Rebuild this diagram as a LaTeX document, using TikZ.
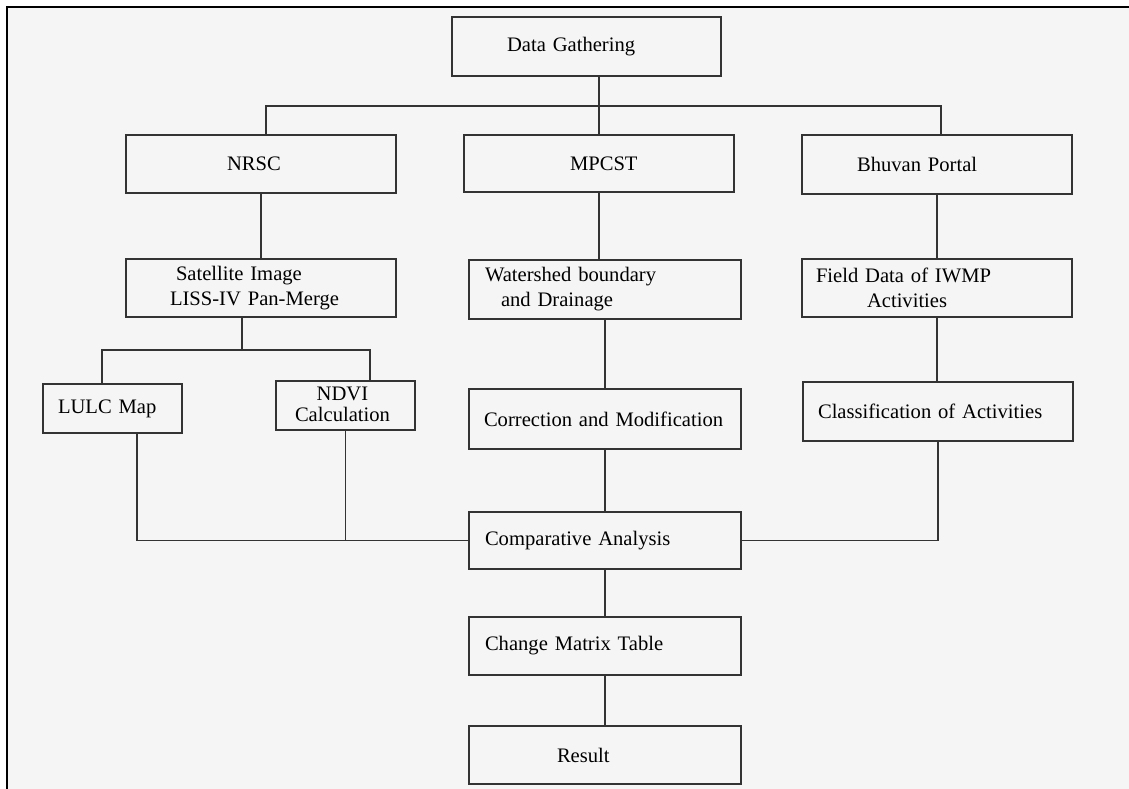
\documentclass[tikz,border=0pt]{standalone}
\usepackage{fontspec}
\setmainfont{Liberation Serif}
\usepackage{tikz}
\usetikzlibrary{calc}
\definecolor{paper}{HTML}{F5F5F5}
\definecolor{ink}{HTML}{333333}

\begin{document}
\begin{tikzpicture}[x=1pt,y=-1pt,
box/.style={draw=ink,line width=1.4pt,align=left,inner xsep=0pt,inner ysep=0pt,
  font=\fontsize{20.6}{25}\selectfont},
wide/.style={box,text width=270pt,minimum height=58pt},
small/.style={box,text width=139pt,minimum height=49pt},
link/.style={draw=ink,line width=1.4pt}]
 \useasboundingbox (0,0) rectangle (1129,789);
 \fill[paper] (7,7) rectangle (1129,789);
 \draw[line width=2pt] (7,789) -- (7,7) -- (1129,7);
 % top row
 \node[wide,text width=269pt,minimum height=59pt] (dg) at (586.5,46.5) {\hspace*{55pt}Data Gathering};
 \node[wide] (nrsc) at (261,164) {\hspace*{101pt}NRSC};
 \node[wide,minimum height=57pt] (mpcst) at (599,163.5) {\hspace*{106pt}MPCST};
 \node[wide,minimum height=59pt] (bhuvan) at (937,164.5) {\hspace*{55pt}Bhuvan Portal};
 % second row
 \node[wide] (sat) at (261,288) {\hspace*{50pt}Satellite Image\\\hspace*{44pt}LISS-IV Pan-Merge};
 \node[wide,text width=272pt,minimum height=59pt] (ws) at (605,289.5) {\hspace*{16pt}Watershed boundary\\\hspace*{32pt}and Drainage};
 \node[wide] (field) at (937,288) {\hspace*{14pt}Field Data of IWMP\\\hspace*{65pt}Activities};
 % third row
 \node[small] (lulc) at (112.5,408.5) {\hspace*{15pt}LULC Map};
 \node[small] (ndvi) at (345.5,405.5) {\hspace*{19pt}\begin{tabular}{@{}c@{}}NDVI\\[-4pt]Calculation\end{tabular}};
 \node[wide,text width=272pt,minimum height=60pt] (cor) at (605,419) {\hspace*{15pt}Correction and Modification};
 \node[wide,minimum height=59pt] (cls) at (938,411.5) {\hspace*{15pt}Classification of Activities};
 % bottom column
 \node[wide,text width=272pt,minimum height=57pt] (ca) at (605,540.5) {\hspace*{16pt}Comparative Analysis};
 \node[wide,text width=272pt] (cmt) at (605,646) {\hspace*{16pt}Change Matrix Table};
 \node[wide,text width=272pt] (res) at (605,755) {\hspace*{88pt}Result};
 % connectors
 \coordinate (busl) at (266,106);
 \coordinate (busr) at (941,106);
 \draw[link] (dg.south -| mpcst.north) -- (mpcst.north);
 \draw[link] (nrsc.north -| busl) -- (busl) -- (busr) -- (bhuvan.north -| busr);
 \foreach \a/\b in {nrsc/sat,ws/cor,cor/ca,ca/cmt,cmt/res,bhuvan/field}
  \draw[link] (\a.south) -- (\b.north);
 \draw[link] (mpcst.south) -- (mpcst.south |- ws.north);
 \draw[link] (field.south) -- (field.south |- cls.north);
 \coordinate (split) at (242,350);
 \coordinate (spl) at (102,350);
 \coordinate (spr) at (370,350);
 \draw[link] (sat.south -| split) -- (split);
 \draw[link] (lulc.north -| spl) -- (spl) -- (spr) -- (ndvi.north -| spr);
 \coordinate (drop) at (137,432);
 \draw[link] (lulc.south -| drop) |- (ca.west);
 \draw[link] (ndvi.south) |- (ca.west);
 \draw[link] (cls.south) |- (ca.east);
\end{tikzpicture}
\end{document}
